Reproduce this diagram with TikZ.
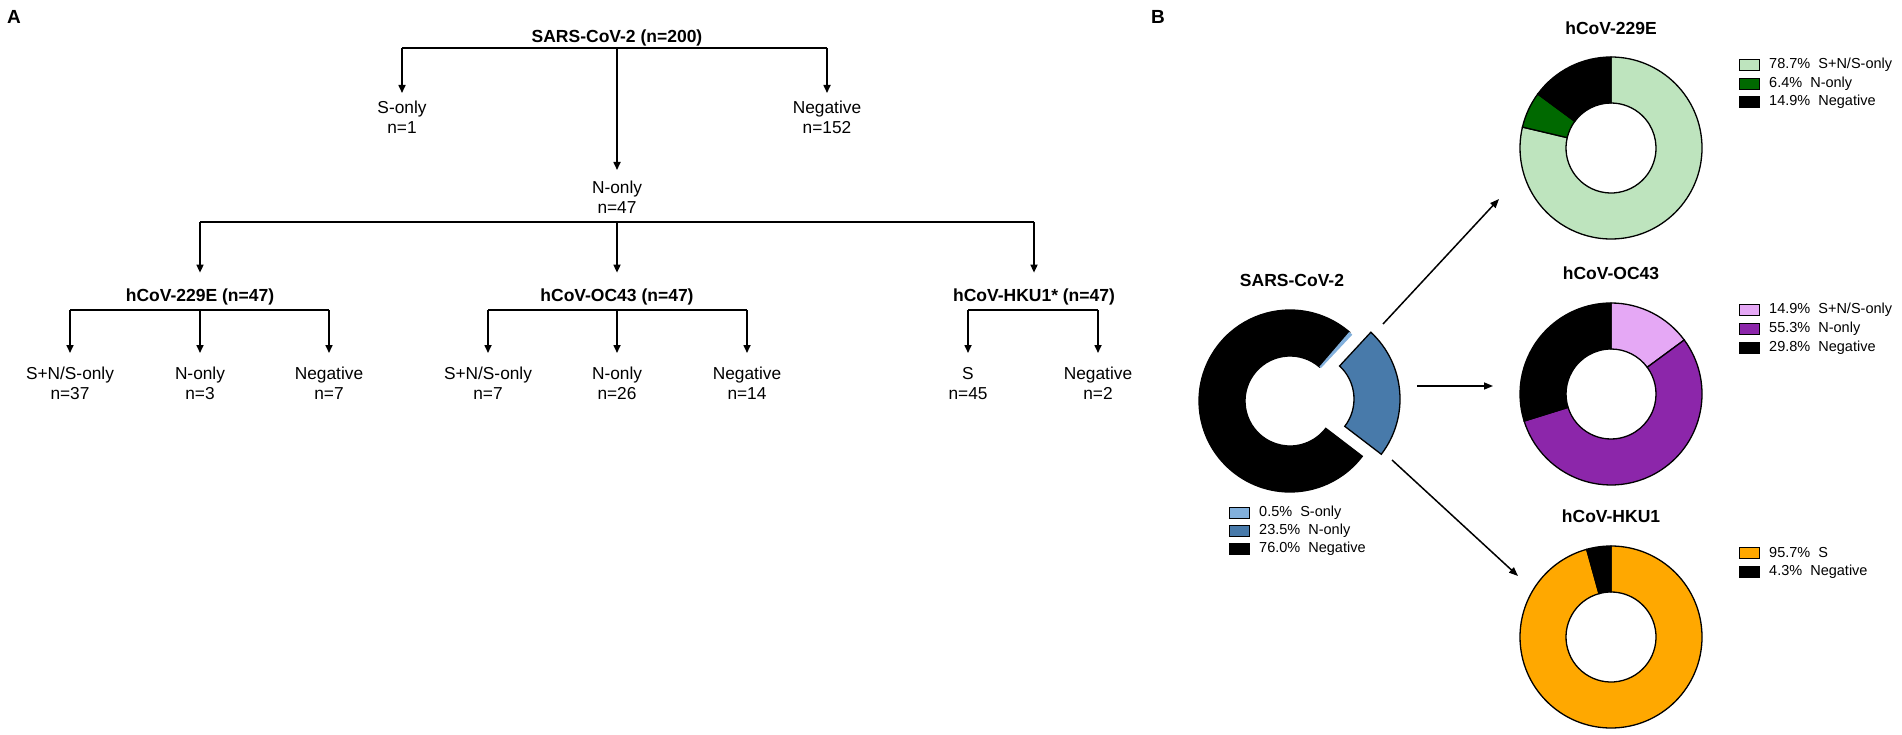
\documentclass[tikz,border=0pt]{standalone}
\usepackage{fontspec}
\setmainfont{Liberation Sans}
\usetikzlibrary{arrows.meta,positioning}

\definecolor{lgreen}{RGB}{190,228,190}
\definecolor{dgreen}{RGB}{0,105,0}
\definecolor{lviolet}{RGB}{229,168,245}
\definecolor{dviolet}{RGB}{140,38,170}
\definecolor{hkuorange}{RGB}{255,168,0}
\definecolor{lblue}{RGB}{130,176,220}
\definecolor{sblue}{RGB}{72,122,170}

\tikzset{
  tree/.style={line width=2pt},
  drop/.style={line width=1.6pt,-{Triangle[length=8pt,width=7pt]}},
  pointer/.style={line width=1.5pt,-{Triangle[length=9pt,width=7pt]}},
  leaf/.style={align=center,inner sep=0pt,anchor=north,font=\fontsize{17.3}{20}\selectfont},
  head/.style={inner sep=0pt,font=\bfseries\fontsize{17.5}{20}\selectfont},
  panel/.style={inner sep=0pt,font=\bfseries\fontsize{19}{22}\selectfont},
  legkey/.style={draw,line width=1pt,minimum width=20pt,minimum height=11pt,inner sep=0pt,outer sep=0pt},
  legtxt/.style={inner sep=0pt,font=\fontsize{14.5}{17}\selectfont},
  ring/.style={draw=black,line width=1.3pt}
}

% ring segment: centre, from, to (degrees clockwise from 12 o'clock), colour
\newcommand{\ringpart}[5][ring]{%
  \filldraw[#1,fill=#5,shift={(#2)}] ({#3-90}:91) arc[start angle=#3-90,end angle=#4-90,radius=91]
    -- ({#4-90}:45) arc[start angle=#4-90,end angle=#3-90,radius=45] -- cycle;}

\begin{document}
\begin{tikzpicture}[x=1pt,y=-1pt]
\useasboundingbox (0,0) rectangle (1902,735);

%%% A: tree
\node[panel] (pa) at (14,17) {A}; % panel label
\node[head] (sars) at (617,38) {SARS-CoV-2 (n=200)}; % root
\coordinate (bar1) at (617,48);
\node[leaf] (sonly) at (402,101) {S-only\\n=1};
\node[leaf] (neg) at (827,101) {Negative\\n=152};
\node[leaf] (nonly) at (617,181) {N-only\\n=47};
\draw[tree] (sonly |- bar1) -- (neg |- bar1); % top bar
\draw[drop,shorten >=8pt] (sonly |- bar1) -- (sonly.north);
\draw[drop,shorten >=8pt] (neg |- bar1) -- (neg.north);
\draw[drop,shorten >=11pt] (bar1) -- (nonly.north);

\coordinate (bar2) at (617,222);
\node[head] (h229) at (200,297) {hCoV-229E (n=47)};
\node[head] (hoc) at (617,297) {hCoV-OC43 (n=47)};
\node[head] (hhku) at (1034,297) {hCoV-HKU1* (n=47)};
\draw[tree] (h229 |- bar2) -- (hhku |- bar2); % second bar
\draw[drop,shorten >=16pt] (h229 |- bar2) -- (h229.north);
\draw[drop,shorten >=16pt] (bar2) -- (hoc.north);
\draw[drop,shorten >=16pt] (hhku |- bar2) -- (hhku.north);

\coordinate (bar3) at (0,310);
% 229E
\node[leaf] (a1) at (70,367) {S+N/S-only\\n=37};
\node[leaf] (a2) at (200,367) {N-only\\n=3};
\node[leaf] (a3) at (329,367) {Negative\\n=7};
\draw[tree] (a1 |- bar3) -- (a3 |- bar3);
\draw[drop,shorten >=14pt] (a1 |- bar3) -- (a1.north);
\draw[drop,shorten >=14pt] (a2 |- bar3) -- (a2.north);
\draw[drop,shorten >=14pt] (a3 |- bar3) -- (a3.north);
% OC43
\node[leaf] (b1) at (488,367) {S+N/S-only\\n=7};
\node[leaf] (b2) at (617,367) {N-only\\n=26};
\node[leaf] (b3) at (747,367) {Negative\\n=14};
\draw[tree] (b1 |- bar3) -- (b3 |- bar3);
\draw[drop,shorten >=14pt] (b1 |- bar3) -- (b1.north);
\draw[drop,shorten >=14pt] (b2 |- bar3) -- (b2.north);
\draw[drop,shorten >=14pt] (b3 |- bar3) -- (b3.north);
% HKU1
\node[leaf] (c1) at (968,367) {S\\n=45};
\node[leaf] (c2) at (1098,367) {Negative\\n=2};
\draw[tree] (c1 |- bar3) -- (c2 |- bar3);
\draw[drop,shorten >=14pt] (c1 |- bar3) -- (c1.north);
\draw[drop,shorten >=14pt] (c2 |- bar3) -- (c2.north);

%%% B: rings
\node[panel] (pb) at (1158,17) {B}; % panel label
\node[head] (tsars) at (1292,280) {SARS-CoV-2};
\node[head] (t229) at (1611,28) {hCoV-229E};
\node[head] (toc) at (1611,273) {hCoV-OC43};
\node[head] (thku) at (1611,516) {hCoV-HKU1};

% SARS-CoV-2
\ringpart{1290,401}{127.4}{401}{black}
\ringpart[draw=none]{1290,401}{400.6}{403.2}{lblue}
\ringpart{1309,399}{42.8}{127.4}{sblue} % pulled out
% 229E
\ringpart{1611,148}{0}{283.3}{lgreen}
\ringpart{1611,148}{283.3}{306.4}{dgreen}
\ringpart{1611,148}{306.4}{360}{black}
% OC43
\ringpart{1611,394}{0}{53.6}{lviolet}
\ringpart{1611,394}{53.6}{252.7}{dviolet}
\ringpart{1611,394}{252.7}{360}{black}
% HKU1
\ringpart{1611,637}{0}{344.5}{hkuorange}
\ringpart{1611,637}{344.5}{360}{black}

% legends
\node[legkey,fill=lblue] (ks1) at (1239,513) {};
\node[legtxt,right=10pt of ks1] {0.5\%~ S-only};
\node[legkey,fill=sblue] (ks2) at (1239,531) {};
\node[legtxt,right=10pt of ks2] {23.5\%~ N-only};
\node[legkey,fill=black] (ks3) at (1239,549) {};
\node[legtxt,right=10pt of ks3] {76.0\%~ Negative};

\node[legkey,fill=lgreen] (ke1) at (1749,65) {};
\node[legtxt,right=10pt of ke1] {78.7\%~ S+N/S-only};
\node[legkey,fill=dgreen] (ke2) at (1749,84) {};
\node[legtxt,right=10pt of ke2] {6.4\%~ N-only};
\node[legkey,fill=black] (ke3) at (1749,102) {};
\node[legtxt,right=10pt of ke3] {14.9\%~ Negative};

\node[legkey,fill=lviolet] (ko1) at (1749,310) {};
\node[legtxt,right=10pt of ko1] {14.9\%~ S+N/S-only};
\node[legkey,fill=dviolet] (ko2) at (1749,329) {};
\node[legtxt,right=10pt of ko2] {55.3\%~ N-only};
\node[legkey,fill=black] (ko3) at (1749,348) {};
\node[legtxt,right=10pt of ko3] {29.8\%~ Negative};

\node[legkey,fill=hkuorange] (kh1) at (1749,553) {};
\node[legtxt,right=10pt of kh1] {95.7\%~ S};
\node[legkey,fill=black] (kh2) at (1749,572) {};
\node[legtxt,right=10pt of kh2] {4.3\%~ Negative};

% arrows out of SARS-CoV-2
\coordinate (o1) at (1383,324); \coordinate (e1) at (1499,199);
\coordinate (o2) at (1417,386); \coordinate (e2) at (1493,386);
\coordinate (o3) at (1392,460); \coordinate (e3) at (1518,576);
\draw[pointer] (o1) -- (e1);
\draw[pointer] (o2) -- (e2);
\draw[pointer] (o3) -- (e3);
\end{tikzpicture}
\end{document}
